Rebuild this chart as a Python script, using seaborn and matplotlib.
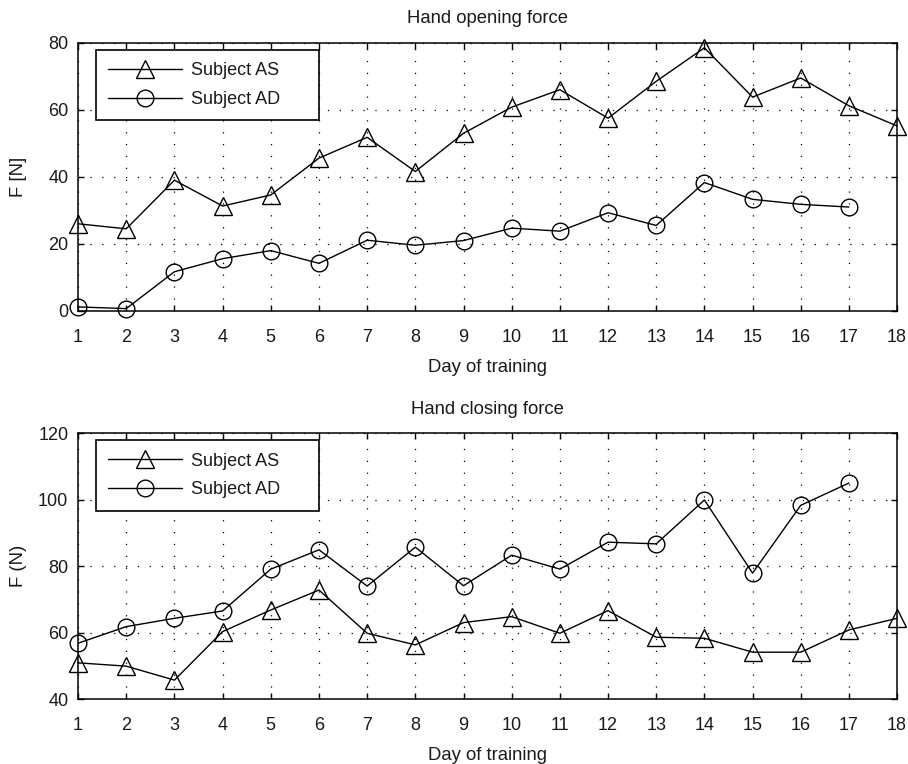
import numpy as np
import pandas as pd
import seaborn as sns
import matplotlib.pyplot as plt

# Dados
dias = list(range(1, 19))
abertura_as = [26, 24.5, 39, 31.3, 34.6, 45.6, 51.8, 41.6, 53, 60.8, 66, 57.5, 68.5, 78.5, 63.8, 69.5, 61.2, 55.2]
abertura_ad = [1.2, 0.7, 11.7, 15.6, 18, 14.2, 21.1, 19.6, 21, 24.7, 23.8, 29.3, 25.5, 38.3, 33.3, 31.8, 31]
fechamento_as = [50.9, 49.9, 45.7, 60.3, 66.8, 72.8, 59.8, 56.3, 63, 64.8, 59.8, 66.6, 58.6, 58.3, 54.1, 54.1, 60.8, 64.3]
fechamento_ad = [56.8, 61.8, 64.3, 66.5, 79.1, 84.9, 74, 85.7, 74.1, 83.3, 79.1, 87.2, 86.7, 99.9, 77.9, 98.3, 105]

rotulos = ["Subject AS", "Subject AD"]


def monta_df(serie_as, serie_ad):
    return pd.concat([
        pd.DataFrame({"dia": dias[:len(serie_as)], "forca": serie_as, "sujeito": rotulos[0]}),
        pd.DataFrame({"dia": dias[:len(serie_ad)], "forca": serie_ad, "sujeito": rotulos[1]}),
    ])


sns.set_style("ticks")
plt.rcParams["font.family"] = ["Liberation Sans", "DejaVu Sans"]
plt.rcParams["text.color"] = "0.1"
plt.rcParams["axes.labelcolor"] = "0.1"
plt.rcParams["xtick.color"] = "black"
plt.rcParams["ytick.color"] = "black"
plt.rcParams["xtick.labelcolor"] = "0.1"
plt.rcParams["ytick.labelcolor"] = "0.1"

fig = plt.figure(figsize=(9.08, 7.64), dpi=100)
ax1 = fig.add_axes([0.086, 0.593, 0.902, 0.351])
ax2 = fig.add_axes([0.086, 0.085, 0.902, 0.348])

paineis = [
    (ax1, monta_df(abertura_as, abertura_ad), "Hand opening force", "F [N]", (0, 80), [0, 20, 40, 60, 80]),
    (ax2, monta_df(fechamento_as, fechamento_ad), "Hand closing force", "F (N)", (40, 120), [40, 60, 80, 100, 120]),
]

tamanho_marcador = {"^": 13, "o": 12}

for ax, df, titulo, ylab, ylim, yticks in paineis:
    sns.lineplot(data=df, x="dia", y="forca", style="sujeito", hue="sujeito",
                 palette=["black", "black"], markers={"Subject AS": "^", "Subject AD": "o"},
                 dashes=False, markersize=12, markerfacecolor="none", markeredgecolor="black",
                 markeredgewidth=1.0, linewidth=1.0, ax=ax, legend=True)
    for ln in ax.lines:
        ln.set_clip_on(False)
        m = ln.get_marker()
        if m in tamanho_marcador:
            ln.set_markersize(tamanho_marcador[m])
    ax.set_xlim(1, 18)
    ax.set_ylim(*ylim)
    ax.set_xticks(dias)
    ax.set_yticks(yticks)
    ax.grid(True, linestyle=(0, (1, 8.5)), color="black", linewidth=0.9)
    ax.tick_params(direction="in", top=True, right=True, labelsize=13, length=4.5, width=1.0)
    ax.tick_params(axis="x", pad=13)
    ax.tick_params(axis="y", pad=7)
    for s in ax.spines.values():
        s.set_linewidth(1.1)
        s.set_color("black")
    ax.set_title(titulo, fontsize=13.3, pad=14)
    ax.set_xlabel("Day of training", fontsize=13.3)
    ax.set_ylabel(ylab, fontsize=13.3)
    ax.xaxis.set_label_coords(0.5, -0.18)
    ax.yaxis.set_label_coords(-0.062, 0.5)

    handles, labels = ax.get_legend_handles_labels()
    for h in handles:
        m = h.get_marker()
        if m in tamanho_marcador:
            h.set_markersize(tamanho_marcador[m])
    leg = ax.legend(handles, labels, title=None, loc="upper left",
                    bbox_to_anchor=(0.0216, 0.5, 0.272, 0.473), mode="expand",
                    borderaxespad=0, fontsize=13, frameon=True, fancybox=False,
                    handlelength=4.1, handletextpad=0.5, borderpad=0.68, labelspacing=0.65)
    leg.get_frame().set_edgecolor("black")
    leg.get_frame().set_linewidth(1.2)
    leg.get_frame().set_alpha(1)

plt.savefig("out.png", dpi=100)
